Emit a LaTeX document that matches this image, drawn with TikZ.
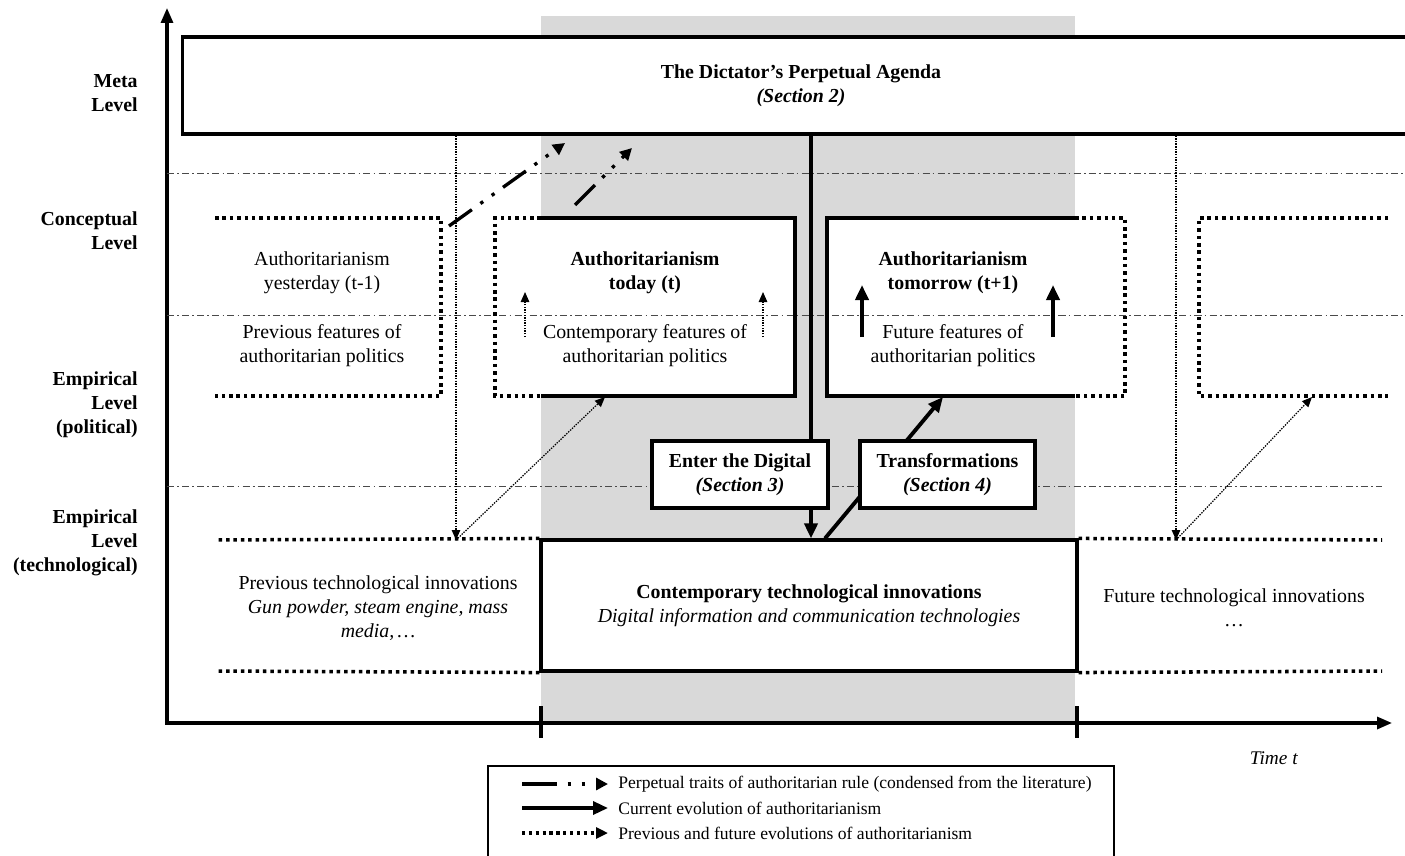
\documentclass[tikz,border=0pt]{standalone}
\usepackage{fontspec}
\setmainfont{Liberation Serif}
\usetikzlibrary{arrows.meta}
\definecolor{bandgray}{HTML}{D9D9D9}
\definecolor{guidegray}{HTML}{4A4A4A}
\newcommand{\bodysize}{\fontsize{11.3}{13.6}\selectfont}
\tikzset{
  levelname/.style={font=\bodysize\bfseries,align=right,anchor=east,inner sep=0pt},
  boxtext/.style={font=\bodysize,align=center,inner sep=0pt},
  panel/.style={draw=black,line width=1.8pt,fill=white,align=center,font=\bodysize,inner sep=0pt},
  solidedge/.style={line width=1.8pt},
  dotedge/.style={line width=2pt,dash pattern=on 2pt off 2.2pt},
  guide/.style={draw=guidegray,line width=0.55pt,dash pattern=on 4pt off 1.8pt on 1pt off 1.8pt},
  timeaxis/.style={-{Triangle[length=3mm,width=2.4mm]},line width=1.8pt},
  nowarrow/.style={-{Triangle[length=3mm,width=2.6mm]},line width=2.2pt},
  pastarrow/.style={-{Triangle[length=2mm,width=1.7mm]},line width=0.7pt,dash pattern=on 0.8pt off 0.7pt},
  traitarrow/.style={-{Triangle[length=2.4mm,width=2.4mm]},line width=1.9pt,
                     dash pattern=on 16pt off 6pt on 1.9pt off 6pt on 1.9pt off 6pt},
  legendtext/.style={font=\fontsize{10}{12}\selectfont,anchor=west,inner sep=0pt}
}

\begin{document}
\begin{tikzpicture}[x=0.02cm,y=-0.02cm]
  \useasboundingbox (0,0) rectangle (1405,855);
  \clip (0,0) rectangle (1405,855);

  % present period
  \fill[bandgray] (541,16) rectangle (1075,723);

  % axes
  \coordinate (origin) at (167,723);
  \coordinate (ytop) at (167,8);
  \coordinate (xend) at (1392,723);
  \draw[timeaxis] ([yshift=-0.9pt]origin) -- (ytop);
  \draw[timeaxis] (origin) -- (xend);
  \foreach \t in {541,1077}
    \draw[line width=2.6pt] (\t,706) -- (\t,738);
  \node[font=\fontsize{11}{13}\selectfont\itshape,anchor=east,inner sep=0pt] (timelbl)
    at (1298,758) {Time t};

  % levels
  \node[levelname] (metalvl) at (138,93) {Meta\\Level};
  \node[levelname] (conclvl) at (138,231) {Conceptual\\Level};
  \node[levelname] (pollvl) at (138,405) {Empirical\\Level\\(political)};
  \node[levelname] (techlvl) at (138,543) {Empirical\\Level\\(technological)};

  \fill[white] (495,218) rectangle (795,396);
  \fill[white] (827,218) rectangle (1125,396);
  \draw[guide] (167,173) -- (1405,173);
  \draw[guide] (167,315) -- (1405,315);
  \draw[guide] (167,486) -- (1382,486);

  % political boxes
  \draw[dotedge] (215,218) -| (441,396) -- (215,396);
  \draw[dotedge] (541,218) -| (495,396) -- (541,396);
  \draw[solidedge] (541,218) -| (795,396) -- (541,396);
  \draw[solidedge] (1075,218) -| (827,396) -- (1075,396);
  \draw[dotedge] (1075,218) -| (1125,396) -- (1075,396);
  \draw[dotedge] (1388,218) -| (1199,396) -- (1388,396);

  \node[boxtext] (yest) at (322,273) {Authoritarianism\\yesterday (t-1)};
  \node[boxtext] (yestpol) at (322,346) {Previous features of\\authoritarian politics};
  \node[boxtext,font=\bodysize\bfseries] (today) at (645,273) {Authoritarianism\\today (t)};
  \node[boxtext] (todaypol) at (645,346) {Contemporary features of\\authoritarian politics};
  \node[boxtext,font=\bodysize\bfseries] (tmrw) at (953,273) {Authoritarianism\\tomorrow (t+1)};
  \node[boxtext] (tmrwpol) at (953,346) {Future features of\\authoritarian politics};

  \coordinate (todaylo1) at (525,337); \coordinate (todayhi1) at (525,292);
  \coordinate (todaylo2) at (763,337); \coordinate (todayhi2) at (763,292);
  \draw[pastarrow] (todaylo1) -- (todayhi1);
  \draw[pastarrow] (todaylo2) -- (todayhi2);
  \coordinate (tmrwlo1) at (862,337); \coordinate (tmrwhi1) at (862,285);
  \coordinate (tmrwlo2) at (1053,337); \coordinate (tmrwhi2) at (1053,285);
  \draw[nowarrow] (tmrwlo1) -- (tmrwhi1);
  \draw[nowarrow] (tmrwlo2) -- (tmrwhi2);

  % meta and technology
  \node[panel,minimum width=24.76cm,minimum height=1.94cm] (meta) at (801,85.5)
    {\textbf{The Dictator's Perpetual Agenda}\\\textbf{\textit{(Section 2)}}};
  \node[panel,minimum width=10.72cm,minimum height=2.62cm] (contemp) at (809,605.5)
    {\textbf{Contemporary technological innovations}\\
     \textit{Digital information and communication technologies}};
  \draw[dotedge] (contemp.north west) -- (215,540);
  \draw[dotedge] (contemp.south west) -- (215,671);
  \draw[dotedge] (contemp.north east) -- (1382,540);
  \draw[dotedge] (contemp.south east) -- (1382,671);
  \node[boxtext] (prevtech) at (378,608)
    {Previous technological innovations\\\textit{Gun powder, steam engine, mass}\\\textit{media,\,\dots}};
  \node[boxtext] (futtech) at (1234,608) {Future technological innovations\\\dots};

  % evolutions
  \coordinate (agenda) at (811,0);
  \draw[nowarrow] (meta.south -| agenda) -- (contemp.north -| agenda);
  \coordinate (shiftfoot) at (825,0);
  \coordinate (tmrwin) at (943,397);
  \draw[nowarrow] (contemp.north -| shiftfoot) -- (tmrwin);

  \coordinate (pastdrop) at (456,540);
  \coordinate (todayin) at (605,397);
  \draw[pastarrow] (meta.south -| pastdrop) -- (pastdrop);
  \draw[pastarrow] (pastdrop) -- (todayin);
  \coordinate (futdrop) at (1176,540);
  \coordinate (nextin) at (1312,397);
  \draw[pastarrow] (meta.south -| futdrop) -- (futdrop);
  \draw[pastarrow] (futdrop) -- (nextin);

  \coordinate (yestout) at (449,226); \coordinate (trait1) at (565,143);
  \coordinate (todayout) at (575,205); \coordinate (trait2) at (632,148);
  \draw[traitarrow] (yestout) -- (trait1);
  \draw[traitarrow] (todayout) -- (trait2);

  \node[panel,font=\bodysize\bfseries,minimum width=3.52cm,minimum height=1.34cm] (enter)
    at (740,474.5) {Enter the Digital\\\textit{(Section 3)}};
  \node[panel,font=\bodysize\bfseries,minimum width=3.5cm,minimum height=1.34cm] (transf)
    at (947.5,474.5) {Transformations\\\textit{(Section 4)}};

  % legend
  \draw[line width=0.6pt] (488,766) rectangle (1114,875);
  \coordinate (key1a) at (522,784); \coordinate (key1b) at (608,784);
  \coordinate (key2a) at (522,808); \coordinate (key2b) at (608,808);
  \coordinate (key3a) at (522,833); \coordinate (key3b) at (608,833);
  \draw[traitarrow,dash pattern=on 20pt off 6pt on 1.9pt off 6pt on 1.9pt off 8pt] (key1a) -- (key1b);
  \draw[nowarrow,line width=1.9pt] (key2a) -- (key2b);
  \draw[-{Triangle[length=2.4mm,width=2.2mm]},line width=1.9pt,dash pattern=on 1.9pt off 2pt] (key3a) -- (key3b);
  \node[legendtext] (key1) at (618,784) {Perpetual traits of authoritarian rule (condensed from the literature)};
  \node[legendtext] (key2) at (618,808) {Current evolution of authoritarianism};
  \node[legendtext] (key3) at (618,833) {Previous and future evolutions of authoritarianism};
\end{tikzpicture}
\end{document}
